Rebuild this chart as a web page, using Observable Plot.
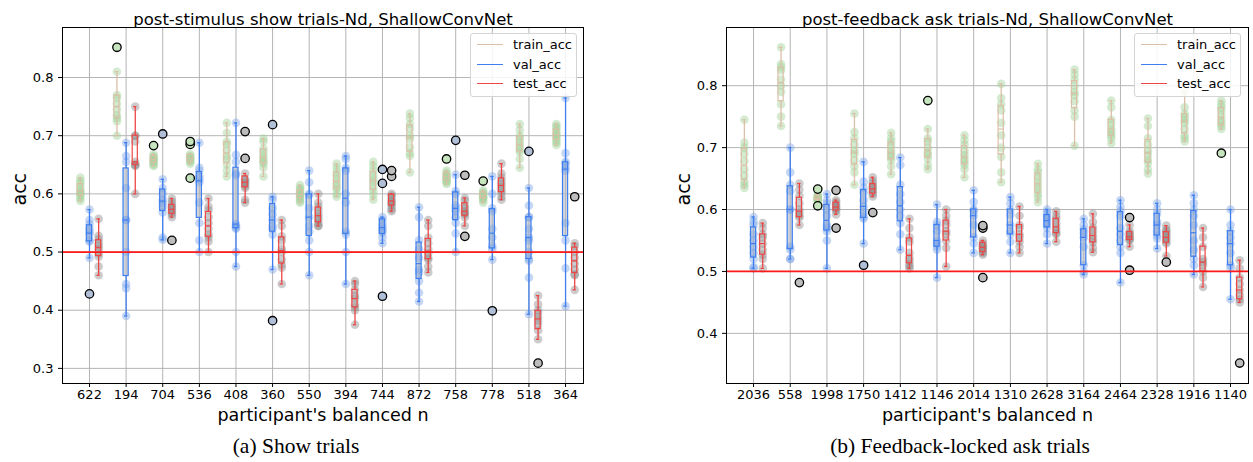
<!DOCTYPE html>
<html><head><meta charset="utf-8">
<script src="https://cdn.jsdelivr.net/npm/d3@7"></script>
<script src="https://cdn.jsdelivr.net/npm/@observablehq/plot@0.6"></script>
<style>
body{margin:0;background:#fff;width:1253px;height:462px;position:relative;overflow:hidden;font-family:"DejaVu Sans",sans-serif;}
.panel{position:absolute;top:0;}
.legend{position:absolute;top:33px;width:105px;height:62px;border:1px solid #d4d4d4;border-radius:3px;background:rgba(255,255,255,0.85);font-size:13px;}
.legend .row{position:absolute;left:0;height:18px;width:105px;}
.legend .ln{position:absolute;left:6px;top:8px;width:26px;height:0;border-top:1.5px solid;}
.legend .tx{position:absolute;left:42px;top:0;line-height:18px;color:#000;}
.caption{position:absolute;top:434px;font-family:"Liberation Serif","Times New Roman",serif;font-size:21.5px;color:#000;white-space:nowrap;transform:translateX(-50%);}
</style></head><body>
<div id="left" class="panel" style="left:0"></div>
<div id="right" class="panel" style="left:626px"></div>
<div id="legL" class="legend" style="left:470px"></div>
<div id="legR" class="legend" style="left:1134px"></div>
<div class="caption" style="left:296px">(a) Show trials</div>
<div class="caption" style="left:960px">(b) Feedback-locked ask trials</div>
<script>
// ---------- data ----------
const showCats = ["622","194","704","536","408","360","550","394","744","872","758","778","518","364"];
const showTrain = [
 [0.628,0.622,0.618,0.612,0.606,0.603,0.600,0.597,0.592,0.588],
 [0.852,0.810,0.770,0.765,0.755,0.745,0.735,0.730,0.725,0.700],
 [0.683,0.668,0.665,0.662,0.660,0.658,0.656,0.653,0.650,0.648],
 [0.690,0.685,0.668,0.665,0.662,0.660,0.658,0.655,0.652,0.627],
 [0.722,0.705,0.690,0.685,0.675,0.665,0.660,0.650,0.640,0.630],
 [0.695,0.690,0.678,0.672,0.665,0.660,0.655,0.652,0.645,0.630],
 [0.615,0.610,0.607,0.603,0.600,0.598,0.595,0.592,0.588,0.585],
 [0.652,0.645,0.638,0.632,0.625,0.618,0.612,0.608,0.600,0.595],
 [0.655,0.648,0.640,0.632,0.625,0.620,0.612,0.605,0.598,0.590],
 [0.738,0.730,0.720,0.712,0.700,0.695,0.680,0.670,0.665,0.637],
 [0.660,0.640,0.636,0.633,0.630,0.628,0.625,0.622,0.620,0.617],
 [0.622,0.606,0.603,0.600,0.598,0.596,0.594,0.592,0.589,0.585],
 [0.720,0.710,0.700,0.695,0.688,0.682,0.676,0.672,0.660,0.645],
 [0.720,0.716,0.712,0.707,0.703,0.700,0.696,0.692,0.688,0.684]
];
const showVal = [
 [0.573,0.555,0.548,0.540,0.535,0.530,0.520,0.518,0.490,0.428],
 [0.688,0.665,0.655,0.610,0.555,0.555,0.500,0.445,0.438,0.390],
 [0.703,0.625,0.610,0.600,0.590,0.585,0.578,0.568,0.525,0.521],
 [0.688,0.645,0.640,0.630,0.625,0.620,0.585,0.550,0.520,0.500],
 [0.722,0.667,0.655,0.635,0.632,0.548,0.545,0.542,0.540,0.500,0.475],
 [0.719,0.595,0.590,0.575,0.565,0.555,0.545,0.540,0.530,0.470,0.382],
 [0.640,0.620,0.600,0.598,0.575,0.560,0.545,0.535,0.520,0.500,0.460],
 [0.665,0.660,0.645,0.640,0.600,0.585,0.535,0.530,0.500,0.445],
 [0.642,0.618,0.560,0.555,0.548,0.544,0.540,0.537,0.533,0.525,0.515,0.424],
 [0.577,0.560,0.520,0.505,0.490,0.470,0.465,0.450,0.430,0.415],
 [0.692,0.633,0.605,0.600,0.580,0.575,0.570,0.560,0.550,0.532,0.500],
 [0.630,0.600,0.575,0.570,0.540,0.525,0.510,0.505,0.487,0.399],
 [0.673,0.610,0.580,0.560,0.560,0.540,0.525,0.520,0.500,0.488,0.485,0.456,0.393],
 [0.765,0.670,0.655,0.652,0.645,0.640,0.550,0.520,0.472,0.407]
];
const showTest = [
 [0.557,0.528,0.522,0.515,0.510,0.505,0.497,0.492,0.475,0.460],
 [0.750,0.700,0.700,0.690,0.655,0.650,0.650,0.648,0.600],
 [0.592,0.587,0.582,0.578,0.575,0.572,0.568,0.565,0.560,0.520],
 [0.592,0.578,0.572,0.560,0.550,0.540,0.530,0.525,0.518,0.500],
 [0.707,0.661,0.635,0.625,0.623,0.620,0.617,0.613,0.610,0.590,0.585],
 [0.555,0.545,0.527,0.520,0.505,0.500,0.487,0.478,0.473,0.445],
 [0.600,0.585,0.578,0.572,0.565,0.560,0.555,0.550,0.545,0.545],
 [0.450,0.445,0.435,0.425,0.420,0.410,0.405,0.400,0.375],
 [0.640,0.630,0.600,0.597,0.592,0.588,0.585,0.582,0.578,0.573,0.570],
 [0.555,0.545,0.525,0.515,0.505,0.498,0.490,0.487,0.475,0.465],
 [0.632,0.593,0.588,0.580,0.575,0.570,0.567,0.565,0.560,0.545,0.527],
 [0.652,0.635,0.628,0.622,0.617,0.612,0.606,0.602,0.595,0.590],
 [0.425,0.410,0.400,0.395,0.388,0.382,0.375,0.365,0.350,0.309],
 [0.595,0.515,0.510,0.500,0.490,0.480,0.470,0.462,0.460,0.435]
];

const askCats = ["2036","558","1998","1750","1412","1146","2014","1310","2628","3164","2464","2328","1916","1140"];
const askTrain = [
 [0.745,0.708,0.700,0.690,0.678,0.665,0.655,0.645,0.640,0.635],
 [0.862,0.835,0.830,0.825,0.810,0.800,0.790,0.770,0.750,0.735],
 [0.633,0.624,0.622,0.620,0.619,0.618,0.617,0.616,0.615,0.613,0.606],
 [0.755,0.725,0.715,0.705,0.695,0.690,0.680,0.670,0.660,0.640],
 [0.724,0.715,0.710,0.703,0.695,0.690,0.685,0.680,0.670,0.657],
 [0.776,0.730,0.715,0.710,0.700,0.692,0.688,0.682,0.672,0.665],
 [0.720,0.712,0.705,0.695,0.688,0.682,0.677,0.672,0.665,0.652],
 [0.803,0.780,0.770,0.760,0.740,0.720,0.700,0.685,0.660,0.644],
 [0.674,0.665,0.660,0.652,0.645,0.638,0.632,0.625,0.620,0.612],
 [0.826,0.818,0.810,0.800,0.790,0.785,0.775,0.760,0.750,0.703],
 [0.776,0.765,0.745,0.738,0.730,0.725,0.720,0.715,0.707],
 [0.747,0.735,0.715,0.705,0.695,0.688,0.680,0.675,0.665,0.658],
 [0.790,0.765,0.755,0.750,0.745,0.740,0.730,0.720,0.715,0.710],
 [0.776,0.770,0.765,0.760,0.752,0.745,0.740,0.735,0.730,0.691]
];
const askVal = [
 [0.588,0.580,0.575,0.560,0.550,0.540,0.530,0.520,0.507,0.505],
 [0.700,0.660,0.640,0.630,0.600,0.600,0.540,0.535,0.520,0.520],
 [0.625,0.615,0.610,0.600,0.590,0.575,0.570,0.565,0.550,0.505],
 [0.677,0.645,0.635,0.628,0.615,0.605,0.595,0.588,0.585,0.545,0.510],
 [0.684,0.672,0.640,0.625,0.612,0.600,0.590,0.578,0.560,0.535],
 [0.608,0.580,0.575,0.565,0.550,0.545,0.540,0.535,0.490],
 [0.631,0.612,0.600,0.598,0.590,0.575,0.555,0.545,0.530],
 [0.620,0.610,0.600,0.592,0.575,0.565,0.560,0.548,0.530],
 [0.600,0.596,0.592,0.588,0.584,0.580,0.575,0.570,0.560,0.545],
 [0.585,0.575,0.568,0.562,0.555,0.540,0.510,0.500,0.495],
 [0.615,0.605,0.598,0.590,0.570,0.560,0.550,0.540,0.530,0.482],
 [0.610,0.600,0.593,0.580,0.575,0.565,0.558,0.553,0.537],
 [0.623,0.610,0.600,0.590,0.575,0.550,0.535,0.520,0.510,0.495],
 [0.600,0.575,0.565,0.555,0.545,0.530,0.510,0.505,0.455]
];
const askTest = [
 [0.578,0.570,0.560,0.555,0.545,0.535,0.527,0.520,0.505],
 [0.642,0.632,0.622,0.610,0.600,0.595,0.590,0.587,0.575,0.482],
 [0.631,0.615,0.612,0.608,0.605,0.603,0.600,0.598,0.592,0.570],
 [0.652,0.646,0.642,0.638,0.635,0.632,0.628,0.625,0.621,0.595],
 [0.585,0.570,0.555,0.548,0.530,0.522,0.517,0.512,0.508,0.505],
 [0.600,0.590,0.582,0.575,0.565,0.560,0.550,0.538,0.508],
 [0.574,0.570,0.550,0.545,0.542,0.540,0.538,0.535,0.532,0.530,0.527,0.490],
 [0.605,0.590,0.575,0.570,0.560,0.555,0.548,0.540,0.530],
 [0.597,0.590,0.585,0.578,0.572,0.567,0.562,0.560,0.548],
 [0.593,0.580,0.571,0.565,0.558,0.552,0.547,0.538,0.531],
 [0.587,0.575,0.565,0.562,0.559,0.556,0.554,0.552,0.550,0.540,0.502],
 [0.574,0.568,0.565,0.562,0.558,0.555,0.552,0.548,0.545,0.525,0.515],
 [0.570,0.555,0.540,0.520,0.515,0.510,0.500,0.490,0.475],
 [0.518,0.505,0.490,0.480,0.470,0.462,0.455,0.450,0.352]
];

const seriesNames = ["train_acc","val_acc","test_acc"];
const showYTicks = [0.3,0.4,0.5,0.6,0.7,0.8];
const askYTicks = [0.4,0.5,0.6,0.7,0.8];
const chanceLevel = 0.5;
const showTitle = "post-stimulus show trials-Nd, ShallowConvNet";
const askTitle = "post-feedback ask trials-Nd, ShallowConvNet";
const xLabel = "participant's balanced n";
const yLabel = "acc";

// ---------- styles ----------
const SER = [
  {box:"#dbbfa6", pt:"#9fd398", ptOp:0.45, flier:"#c6e5bf"},
  {box:"#3d7ef0", pt:"#7ea6e6", ptOp:0.45, flier:"#b0bed6"},
  {box:"#ef4545", pt:"#8e8e8e", ptOp:0.45, flier:"#bdbdbd"}
];
const OFF = 0.25, HW = 0.07, CAP = 0.045;

function stats(vals){
  const s = vals.slice().sort(d3.ascending);
  const q1 = d3.quantileSorted(s,0.25), med = d3.quantileSorted(s,0.5), q3 = d3.quantileSorted(s,0.75);
  const iqr = q3 - q1, lo = q1 - 1.5*iqr - 1e-9, hi = q3 + 1.5*iqr + 1e-9;
  const inside = s.filter(v => v >= lo && v <= hi);
  return {q1, med, q3, wlo: d3.min(inside), whi: d3.max(inside), out: s.filter(v => v < lo || v > hi)};
}

function build(el, cats, train, val, test, yTicks, ydom, title, width, ml, mr){
  const groups = [train, val, test];
  const pts = [[],[],[]], boxes = [[],[],[]], fliers = [[],[],[]];
  groups.forEach((g,k) => g.forEach((vals,i) => {
    const x = i + (k-1)*OFF;
    const st = stats(vals);
    vals.forEach(v => pts[k].push({x, y: v}));
    boxes[k].push({x, x1: x-HW, x2: x+HW, c1: x-CAP, c2: x+CAP, ...st});
    st.out.forEach(v => fliers[k].push({x, y: v}));
  }));
  const marks = [
    Plot.ruleX(d3.range(cats.length), {stroke:"#b4b4b4", strokeWidth:1}),
    Plot.ruleY(yTicks, {stroke:"#b4b4b4", strokeWidth:1}),
    Plot.rect(boxes[1], {x1:"x1", x2:"x2", y1:"q1", y2:"q3", fill:"#b4b9c3", fillOpacity:0.6})
  ];
  for (let k=0;k<3;k++){
    marks.push(Plot.dot(pts[k], {x:"x", y:"y", r:4.3, fill:SER[k].pt, fillOpacity:SER[k].ptOp, stroke:"none"}));
  }
  for (let k=0;k<3;k++){
    const c = SER[k].box;
    marks.push(
      Plot.ruleX(boxes[k], {x:"x", y1:"wlo", y2:"q1", stroke:c, strokeWidth:1.3}),
      Plot.ruleX(boxes[k], {x:"x", y1:"q3", y2:"whi", stroke:c, strokeWidth:1.3}),
      Plot.ruleY(boxes[k], {y:"wlo", x1:"c1", x2:"c2", stroke:c, strokeWidth:1.3}),
      Plot.ruleY(boxes[k], {y:"whi", x1:"c1", x2:"c2", stroke:c, strokeWidth:1.3}),
      Plot.rect(boxes[k], {x1:"x1", x2:"x2", y1:"q1", y2:"q3", fill:"none", stroke:c, strokeWidth:1.2}),
      Plot.ruleY(boxes[k], {y:"med", x1:"x1", x2:"x2", stroke:c, strokeWidth:1.2})
    );
  }
  for (let k=0;k<3;k++){
    marks.push(Plot.dot(fliers[k], {x:"x", y:"y", r:4.2, fill:SER[k].flier, stroke:"#000", strokeWidth:1.3}));
  }
  marks.push(
    Plot.ruleY([chanceLevel], {stroke:"#ff1a1a", strokeWidth:1.8}),
    Plot.frame({stroke:"#000", strokeWidth:1}),
    Plot.text([title], {frameAnchor:"top", dy:-14, text:d=>d, fontSize:16.5, fill:"#000"}),
    Plot.text([xLabel], {frameAnchor:"bottom", dy:37, text:d=>d, fontSize:17.5, fill:"#000"}),
    Plot.text([yLabel], {frameAnchor:"left", dx:-43, rotate:-90, text:d=>d, fontSize:19, fill:"#000"})
  );
  const chart = Plot.plot({
    width, height: 430,
    marginLeft: ml, marginRight: mr, marginTop: 27, marginBottom: 47,
    style: {fontFamily:"DejaVu Sans", fontSize:"13px", color:"#000", background:"transparent"},
    x: {type:"linear", domain:[-0.737, 13.49], ticks: d3.range(cats.length), tickFormat: i => cats[i], tickSize:4, tickPadding:2, label:null},
    y: {domain: ydom, ticks: yTicks, tickFormat: d3.format(".1f"), tickSize:4, label:null},
    marks
  });
  document.getElementById(el).appendChild(chart);
}

build("left", showCats, showTrain, showVal, showTest, showYTicks, [0.274, 0.886], showTitle, 626, 62, 43);
build("right", askCats, askTrain, askVal, askTest, askYTicks, [0.319, 0.894], askTitle, 627, 100, 5);

function legend(id){
  const el = document.getElementById(id);
  seriesNames.forEach((n,k) => {
    const row = document.createElement("div");
    row.className = "row";
    row.style.top = (2 + k*19.5) + "px";
    row.innerHTML = `<div class="ln" style="border-color:${SER[k].box}"></div><div class="tx">${n}</div>`;
    el.appendChild(row);
  });
}
legend("legL"); legend("legR");
</script>
</body></html>
